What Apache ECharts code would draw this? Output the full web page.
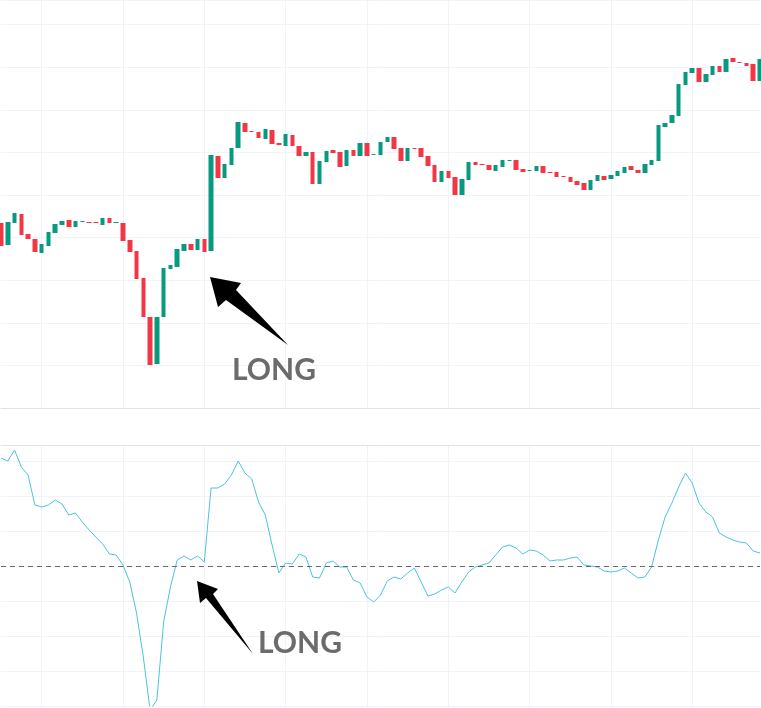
<!DOCTYPE html>
<html>
<head>
<meta charset="utf-8">
<script src="https://cdn.jsdelivr.net/npm/echarts@6/dist/echarts.min.js"></script>
<style>
  html, body { margin: 0; padding: 0; background: #fff; }
  #chart { width: 761px; height: 708px; }
</style>
</head>
<body>
<div id="chart"></div>
<script>
// candle bodies: [open, close] in chart units (no wicks on this chart)
const candles = [
  [185,162],[163,186],[185,195],[194,173],[174,169],[169,156],[155,164],[162,176],[175,184],[183,187],
  [188,181],[181,187],[186,187],[186,185],[186,185],[183,190],[190,185],[185,186],[185,167],[168,156],
  [157,129],[130,91],[91,43],[44,91],[91,140],[139,143],[141,159],[157,164],[164,158],[158,169],
  [169,156],[157,253],[252,230],[230,244],[243,260],[260,286],[285,276],[277,276],[276,270],[269,279],
  [278,264],[265,263],[262,274],[273,262],[262,252],[252,256],[256,224],[224,247],[246,257],[258,255],
  [256,241],[242,258],[258,252],[252,265],[265,252],[253,254],[253,266],[266,271],[271,259],[260,247],
  [247,260],[260,259],[260,251],[252,242],[243,226],[226,237],[237,230],[231,213],[213,229],[228,246],
  [246,243],[244,243],[243,238],[237,243],[241,248],[247,248],[248,238],[239,236],[237,238],[237,242],
  [242,235],[236,235],[236,231],[232,231],[231,226],[227,223],[225,218],[218,228],[227,233],[232,228],
  [229,233],[232,237],[235,241],[242,238],[238,235],[235,244],[243,248],[247,283],[281,285],[285,293],
  [292,324],[323,336],[335,340],[340,326],[326,334],[333,342],[342,336],[336,349],[350,346],[346,345],
  [345,342],[344,327],[327,349]
];

// oscillator values (0 = dashed line)
const osc = [
  108,105,116,99,91,61,59,61,66,62,
  51,53,44,36,29,22,12,11,1,-16,
  -47,-91,-144,-134,-56,-21,6,10,6,10,
  4,78,78,82,91,105,93,87,64,51,
  21,-7,3,2,12,9,-11,-12,3,5,
  -1,-1,-14,-17,-31,-36,-29,-15,-11,-13,
  -7,-2,-16,-30,-28,-24,-21,-27,-16,-6,
  -1,1,3,11,19,21,18,12,16,15,
  11,5,6,6,8,9,1,0,-1,-5,
  -6,-5,-2,-7,-12,-11,-1,26,49,63,
  79,93,83,63,54,49,33,29,26,24,
  23,15,13
];

const cats = candles.map((d, i) => i);
const up = '#089981', down = '#f23645', gridCol = '#f0f3fa';
const splitIdx = (i) => i % 12 === 6;

const chart = echarts.init(document.getElementById('chart'));
chart.setOption({
  animation: false,
  grid: [
    { left: 1, right: 1, top: 0, height: 408 },
    { left: 1, right: 1, top: 445, bottom: 2 }
  ],
  xAxis: [0, 1].map(k => ({
    type: 'category', gridIndex: k, data: cats, boundaryGap: false,
    axisLabel: { show: false }, axisTick: { show: false },
    axisLine: { show: true, onZero: false, lineStyle: { color: '#e0e3eb' } },
    position: k === 0 ? 'bottom' : 'top',
    splitLine: { show: true, interval: (i) => splitIdx(i), lineStyle: { color: gridCol } }
  })),
  yAxis: [
    { type: 'value', gridIndex: 0, min: 0, max: 408, interval: 42.6, axisLabel: { show: false },
      axisLine: { show: false }, axisTick: { show: false }, splitLine: { lineStyle: { color: gridCol } } },
    { type: 'value', gridIndex: 1, min: -140, max: 121, interval: 35, axisLabel: { show: false },
      axisLine: { show: false }, axisTick: { show: false }, splitLine: { lineStyle: { color: gridCol } } }
  ],
  series: [
    {
      type: 'candlestick', xAxisIndex: 0, yAxisIndex: 0, barWidth: 5,
      data: candles.map(([o, c]) => [o, c, Math.min(o, c), Math.max(o, c)]),
      itemStyle: { color: up, color0: down, borderColor: up, borderColor0: down, borderWidth: 0 }
    },
    {
      type: 'line', xAxisIndex: 1, yAxisIndex: 1, data: osc, symbol: 'none',
      lineStyle: { color: '#4cc3dc', width: 1 },
      markLine: {
        silent: true, symbol: 'none', label: { show: false },
        lineStyle: { color: '#6a6a6a', type: [5, 4], width: 1 },
        data: [{ yAxis: 0 }]
      }
    }
  ],
  graphic: [
    { type: 'polygon', z: 100, shape: { points: [[210,277],[241,283],[236,290],[288,345],[226,300],[218,307]] }, style: { fill: '#000' } },
    { type: 'text', z: 100, left: 232, top: 355, style: { text: 'LONG', fill: '#6b6b6b', font: 'bold 30px Lato' } },
    { type: 'polygon', z: 100, shape: { points: [[197,581],[218,589],[213,594],[253,654],[206,598],[200,603]] }, style: { fill: '#000' } },
    { type: 'text', z: 100, left: 258, top: 628, style: { text: 'LONG', fill: '#6b6b6b', font: 'bold 30px Lato' } }
  ]
});
</script>
</body>
</html>
